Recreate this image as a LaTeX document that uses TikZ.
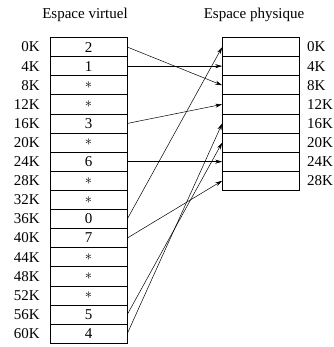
\documentclass[tikz,border=0pt]{standalone}
\usepackage{fontspec}
\setmainfont{Liberation Serif}
\usetikzlibrary{arrows.meta, positioning}

\begin{document}
\begin{tikzpicture}[x=1pt, y=-1pt, font=\fontsize{15}{17}\selectfont]
\useasboundingbox (0,0) rectangle (333,347);
\node (virt) at (85,15) {Espace virtuel};
\node (phys) at (254,15) {Espace physique};

% page table and frames
\begin{scope}[every node/.style={shape=rectangle,
    draw, line width=.6pt, inner sep=0pt,
    minimum width=77pt, minimum height=19.1pt}]
    \foreach \c [count=\i from 0] in {2,1,$\ast$,$\ast$,3,$\ast$,6,$\ast$,$\ast$,0,7,$\ast$,$\ast$,$\ast$,5,4}
        \node (v\i) at (88.5,47.05+19.1*\i) {\c};
    \foreach \i in {0,...,7}
        \node (p\i) at (261,47.05+19.1*\i) {};
\end{scope}

% addresses
\foreach \k [count=\i from 0] in {0,4,...,60}
    \node[anchor=east, inner sep=0pt] (va\i) at (40,47.05+19.1*\i) {\k K};
\foreach \k [count=\i from 0] in {0,4,...,28}
    \node[anchor=west, inner sep=0pt] (pa\i) at (307,47.05+19.1*\i) {\k K};

\begin{scope}[every path/.style={-{Stealth[length=7pt,width=4pt]}, line width=.5pt}]
    \foreach \a/\b in {0/2,1/1,4/3,6/6,9/0,10/7,14/5,15/4}
        \draw (v\a.east) -- (p\b.west);
\end{scope}
\end{tikzpicture}
\end{document}
